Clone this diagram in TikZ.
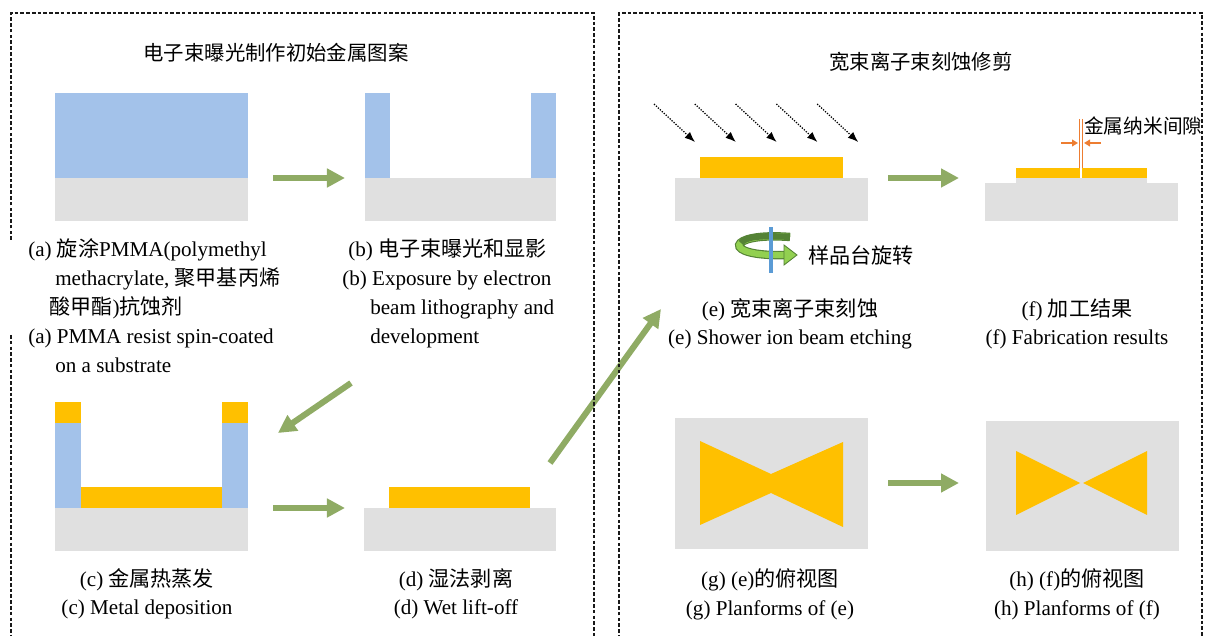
\documentclass[tikz,border=0pt]{standalone}
\usepackage{fontspec}
\setmainfont{Liberation Serif}
\newfontfamily\cjk{Noto Sans CJK SC}
\usetikzlibrary{arrows,arrows.meta}
\definecolor{resist}{RGB}{163,194,234}
\definecolor{wafer}{RGB}{224,224,224}
\definecolor{metal}{RGB}{255,192,0}
\definecolor{arrowgreen}{RGB}{143,171,100}
\definecolor{gaporange}{RGB}{237,125,49}
\definecolor{ribbonlight}{RGB}{146,208,80}
\definecolor{ribbondark}{RGB}{84,130,53}
\definecolor{axisblue}{RGB}{91,155,213}

\begin{document}
\begin{tikzpicture}[x=0.025cm, y=-0.025cm,
	frame/.style={draw=black!90, line width=1.1pt, dash pattern=on 2.6pt off 1.5pt},
	txt/.style={font=\fontsize{15pt}{18pt}\selectfont, inner sep=0pt, anchor=base west},
	ctxt/.style={txt, anchor=base},
	flow/.style={draw=arrowgreen, line width=4.3pt, -{Triangle[length=0.45cm,width=0.45cm]}},
	beam/.style={densely dotted, line width=0.9pt, -{Latex[length=0.26cm,width=0.2cm]}},
	gap/.style={draw=gaporange, line width=1.1pt, -{Triangle[length=0.15cm,width=0.17cm]}}]

	\useasboundingbox (0,0) rectangle (1206,636);

	% Titel
	\node[ctxt, font=\fontsize{14.5pt}{18pt}\selectfont\cjk] (T1) at (276,61) {电子束曝光制作初始金属图案};
	\node[ctxt, font=\fontsize{14.5pt}{18pt}\selectfont\cjk] (T2) at (921,70) {宽束离子束刻蚀修剪};

	% Schritt a
	\fill[resist] (55,93) rectangle (248,178);
	\fill[wafer] (55,178) rectangle (248,221);
	\coordinate (Aout) at (273,178);

	\node[txt] (A1) at (28,257) {(a) {\cjk 旋涂}PMMA(polymethyl};
	\node[txt] (A2) at (55,286) {methacrylate, {\cjk 聚甲基丙烯}};
	\node[txt] (A3) at (49,315) {{\cjk 酸甲酯}){\cjk 抗蚀剂}};
	\node[txt] (A4) at (28,344) {(a) PMMA resist spin-coated};
	\node[txt] (A5) at (55,373) {on a substrate};

	% Schritt b
	\fill[resist] (365,93) rectangle (390,178);
	\fill[resist] (531,93) rectangle (556,178);
	\fill[wafer] (365,178) rectangle (556,221);
	\coordinate (Bin) at (345,178);
	\coordinate (Bout) at (351,383);

	\draw[flow] (Aout) -- (Bin);

	\node[txt] (B1) at (348,257) {(b) {\cjk 电子束曝光和显影}};
	\node[txt] (B2) at (342,286) {(b) Exposure by electron};
	\node[txt] (B3) at (370,315) {beam lithography and};
	\node[txt] (B4) at (370,344) {development};

	% Schritt c
	\fill[metal] (55,402) rectangle (81,423);
	\fill[resist] (55,423) rectangle (81,508);
	\fill[metal] (81,487) rectangle (222,508);
	\fill[resist] (222,423) rectangle (248,508);
	\fill[metal] (222,402) rectangle (248,423);
	\fill[wafer] (55,508) rectangle (248,551);
	\coordinate (Cin) at (278,433);
	\coordinate (Cout) at (273,508);

	\draw[flow] (Bout) -- (Cin);

	\node[ctxt] (C1) at (147,586) {(c) {\cjk 金属热蒸发}};
	\node[ctxt] (C2) at (147,614) {(c) Metal deposition};

	% Schritt d
	\fill[metal] (389,487) rectangle (530,508);
	\fill[wafer] (364,508) rectangle (556,551);
	\coordinate (Din) at (345,508);
	\coordinate (Dout) at (550,463);

	\draw[flow] (Cout) -- (Din);

	\node[ctxt] (D1) at (456,586) {(d) {\cjk 湿法剥离}};
	\node[ctxt] (D2) at (456,614) {(d) Wet lift-off};

	% Schritt e
	\foreach \i in {0,...,4}
		\draw[beam] (654+40.8*\i,104) -- (695+40.8*\i,142);
	\fill[metal] (700,157) rectangle (843,178);
	\fill[wafer] (675,178) rectangle (868,221);
	\coordinate (Ein) at (661,309);
	\coordinate (Eout) at (888,178);

	\draw[flow] (Dout) -- (Ein);

	% Drehtisch
	\draw[ribbondark, line width=6pt] (790,237) .. controls (726,232) and (720,257) .. (786,255);
	\draw[ribbonlight, line width=4.4pt] (790,237) .. controls (726,232) and (720,257) .. (786,255);
	\draw[ribbondark, line width=4.4pt] (790,237) .. controls (760,235) and (745,237) .. (741,243);
	\filldraw[fill=ribbonlight, draw=ribbondark, line width=0.6pt] (784,245) -- (797,255) -- (784,265) -- cycle;
	\fill[axisblue] (769,227) rectangle (773,273);
	\node[txt, font=\fontsize{15pt}{18pt}\selectfont\cjk] (R) at (808,264) {样品台旋转};

	\node[ctxt] (E1) at (790,317) {(e) {\cjk 宽束离子束刻蚀}};
	\node[ctxt] (E2) at (790,345) {(e) Shower ion beam etching};

	% Schritt f
	\fill[wafer] (985,183) rectangle (1178,221);
	\fill[wafer] (1016,178) rectangle (1147,183);
	\fill[metal] (1016,168) rectangle (1080,178);
	\fill[metal] (1082,168) rectangle (1147,178);
	\coordinate (Fin) at (959,178);

	\draw[flow] (Eout) -- (Fin);

	\draw[gaporange, line width=0.7pt] (1079.5,119) -- (1079.5,168);
	\draw[gaporange, line width=0.7pt] (1082.5,119) -- (1082.5,168);
	\coordinate (GL) at (1061,143);
	\coordinate (GLe) at (1078,143);
	\coordinate (GR) at (1101,143);
	\coordinate (GRe) at (1084,143);
	\draw[gap] (GL) -- (GLe);
	\draw[gap] (GR) -- (GRe);
	\node[txt, font=\fontsize{14pt}{18pt}\selectfont\cjk] (G) at (1084,134) {金属纳米间隙};

	\node[ctxt] (F1) at (1077,317) {(f) {\cjk 加工结果}};
	\node[ctxt] (F2) at (1077,345) {(f) Fabrication results};

	% Draufsicht g
	\fill[wafer] (675,418) rectangle (868,549);
	\fill[metal] (700,441) -- (771,474) -- (843,442) -- (843,527) -- (771,493) -- (700,525) -- cycle;
	\coordinate (Gout) at (888,483);

	\node[ctxt] (P1) at (770,586) {(g) (e){\cjk 的俯视图}};
	\node[ctxt] (P2) at (770,615) {(g) Planforms of (e)};

	% Draufsicht h
	\fill[wafer] (986,421) rectangle (1179,551);
	\fill[metal] (1016,451) -- (1080,483) -- (1016,515) -- cycle;
	\fill[metal] (1147,451) -- (1083,483) -- (1147,515) -- cycle;
	\coordinate (Hin) at (959,483);

	\draw[flow] (Gout) -- (Hin);

	\node[ctxt] (Q1) at (1077,586) {(h) (f){\cjk 的俯视图}};
	\node[ctxt] (Q2) at (1077,615) {(h) Planforms of (f)};

	% Rahmen
	\draw[frame] (11,240) -- (11,13) -- (594,13) -- (594,650);
	\draw[frame] (11,335) -- (11,650);
	\draw[frame] (619,650) -- (619,13) -- (1202,13) -- (1202,650);

\end{tikzpicture}
\end{document}
